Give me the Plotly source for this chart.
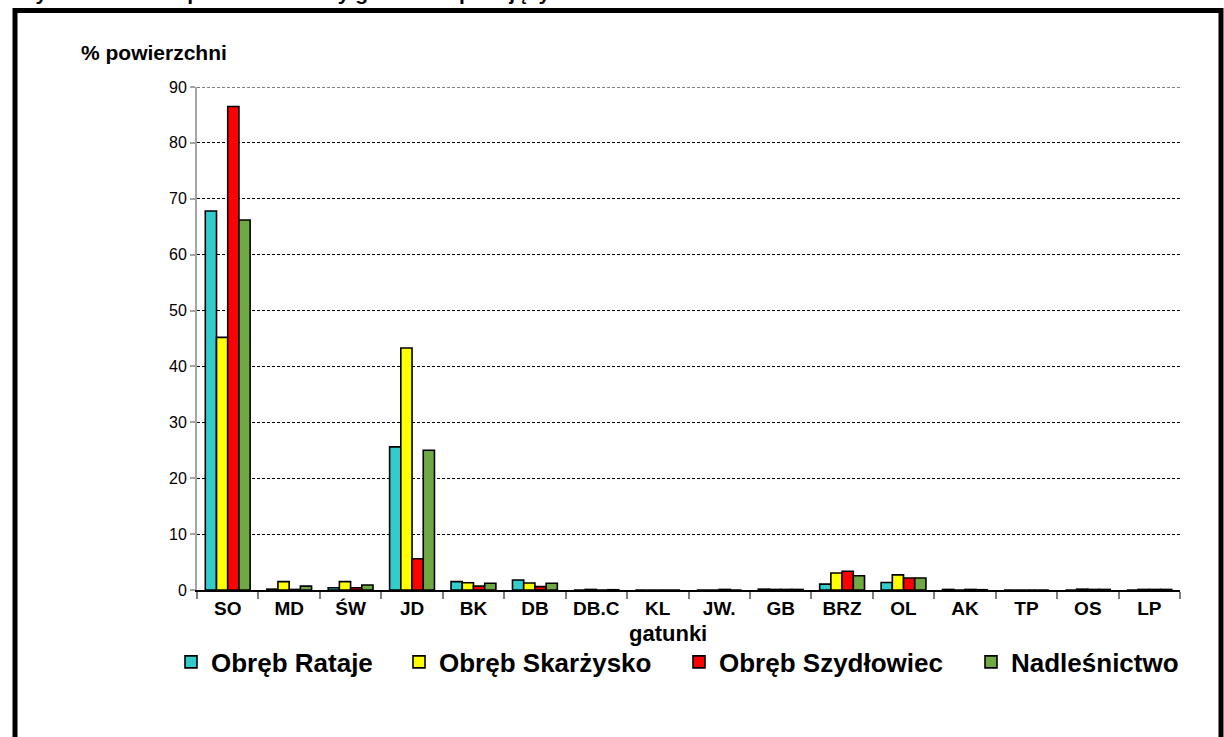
import plotly.graph_objects as go

categories = ["SO", "MD", "ŚW", "JD", "BK", "DB", "DB.C", "KL", "JW.", "GB",
              "BRZ", "OL", "AK", "TP", "OS", "LP"]
series_names = ["Obręb Rataje", "Obręb Skarżysko", "Obręb Szydłowiec", "Nadleśnictwo"]
rataje = [67.8, 0.15, 0.4, 25.6, 1.5, 1.8, 0.0, 0.0, 0.0, 0.15, 1.05, 1.35, 0.1, 0.0, 0.0, 0.0]
skarzysko = [45.2, 1.5, 1.5, 43.3, 1.3, 1.25, 0.1, 0.0, 0.0, 0.1, 3.05, 2.7, 0.0, 0.0, 0.15, 0.1]
szydlowiec = [86.5, 0.1, 0.4, 5.6, 0.7, 0.6, 0.0, 0.0, 0.1, 0.1, 3.35, 2.15, 0.1, 0.0, 0.1, 0.1]
nadlesnictwo = [66.2, 0.7, 0.9, 25.0, 1.2, 1.2, 0.05, 0.0, 0.0, 0.1, 2.55, 2.15, 0.05, 0.0, 0.1, 0.1]
colors = ["#33CCCC", "#FFFF00", "#FF0000", "#70A844"]
y_ticks = [0, 10, 20, 30, 40, 50, 60, 70, 80, 90]

FONT = "Liberation Sans"
W, H = 1224, 737
ML, MR, MT, MB = 197, 44, 87, 147
PW, PH = W - ML - MR, H - MT - MB


def px_x(p):
    return (p - ML) / PW


def px_y(p):
    return (H - MB - p) / PH


legend_ids = ["legend", "legend2", "legend3", "legend4"]
legend_left = [171, 399, 679, 971]

fig = go.Figure()
for name, vals, col, lg in zip(series_names, [rataje, skarzysko, szydlowiec, nadlesnictwo],
                               colors, legend_ids):
    fig.add_trace(go.Bar(
        x=categories, y=vals, name=name, legend=lg,
        marker=dict(color=col, line=dict(color="black", width=1.6)),
    ))

legend_common = dict(
    orientation="h", xanchor="left", y=px_y(662), yanchor="middle",
    font=dict(family=FONT, size=26, color="black", weight="bold"),
    itemwidth=30, bgcolor="rgba(0,0,0,0)",
)

fig.update_layout(
    width=W, height=H, autosize=False,
    margin=dict(l=ML, r=MR, t=MT, b=MB),
    paper_bgcolor="white", plot_bgcolor="white",
    barmode="group", bargap=0.27, bargroupgap=0,
    font=dict(family=FONT, color="black"),
    showlegend=True,
    xaxis=dict(
        type="category", showline=True, linecolor="black", linewidth=1.5,
        ticks="outside", tickson="boundaries", ticklen=7, tickcolor="#808080", tickwidth=1.5,
        tickfont=dict(family=FONT, size=19, color="black", weight="bold"),
        showgrid=False, zeroline=False,
    ),
    yaxis=dict(
        range=[0, 90], tickvals=y_ticks, showline=True, linecolor="#A6A6A6", linewidth=2,
        ticks="outside", ticklen=5, tickcolor="#A6A6A6", tickwidth=1.5,
        tickfont=dict(family=FONT, size=16, color="black"),
        showgrid=True, gridcolor="black", gridwidth=1, griddash="3px,2px", zeroline=False,
    ),
)
for lg, lx in zip(legend_ids, legend_left):
    fig.update_layout({lg: dict(legend_common, x=px_x(lx))})

# top gridline at the end of the value axis
fig.add_shape(
    type="line", xref="paper", yref="y", x0=0, x1=1, y0=y_ticks[-1], y1=y_ticks[-1],
    line=dict(color="black", width=1, dash="3px,2px"), layer="below",
)

fig.add_annotation(
    text="% powierzchni", xref="paper", yref="paper", x=px_x(79), y=px_y(52),
    xanchor="left", yanchor="middle", showarrow=False,
    font=dict(family=FONT, size=21, color="black", weight="bold"),
)
fig.add_annotation(
    text="gatunki", xref="paper", yref="paper", x=px_x(668), y=px_y(633),
    xanchor="center", yanchor="middle", showarrow=False,
    font=dict(family=FONT, size=22, color="black", weight="bold"),
)
# title line cut by the top edge of the picture
fig.add_annotation(
    text="Wykres 2. Udział powierzchniowy gatunków panujących", xref="paper", yref="paper",
    x=px_x(14), y=px_y(6), xanchor="left", yanchor="bottom", showarrow=False,
    font=dict(family=FONT, size=21, color="black", weight="bold"),
)
# outer frame
fig.add_shape(
    type="rect", xref="paper", yref="paper",
    x0=px_x(15), x1=px_x(1221), y0=px_y(760), y1=px_y(10.5),
    line=dict(color="black", width=5), fillcolor="rgba(0,0,0,0)", layer="above",
)

fig.write_html("out.html", config={"displayModeBar": False},
               post_script="document.body.style.margin='0px';")
